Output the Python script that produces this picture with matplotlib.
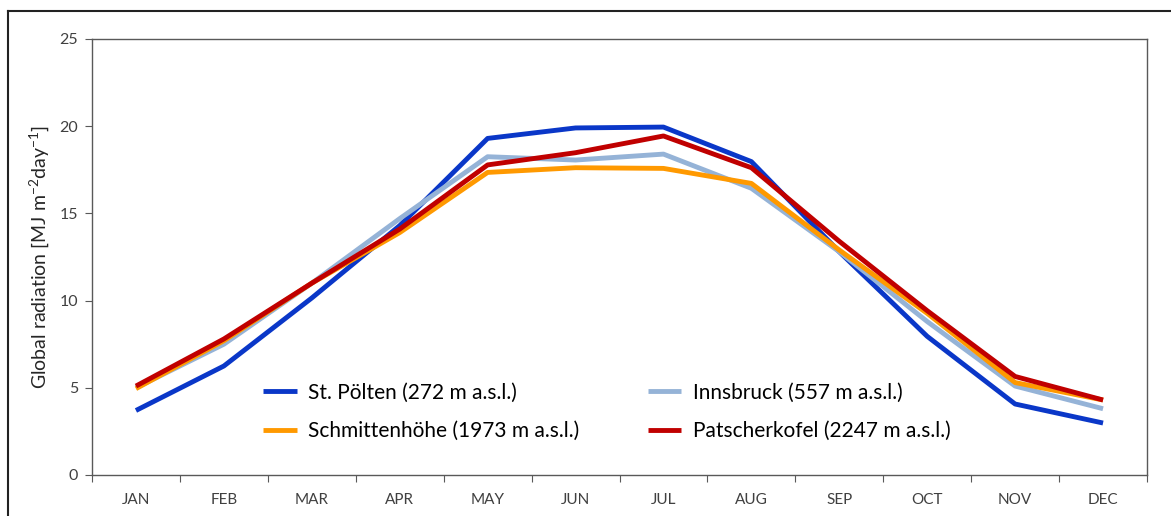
import matplotlib.pyplot as plt
from matplotlib.lines import Line2D
import numpy as np

plt.rcParams["font.family"] = ["Lato", "DejaVu Sans"]
plt.rcParams["mathtext.fontset"] = "custom"
plt.rcParams["mathtext.rm"] = "Lato"

months = ['JAN', 'FEB', 'MAR', 'APR', 'MAY', 'JUN', 'JUL', 'AUG', 'SEP', 'OCT', 'NOV', 'DEC']

st_poelten = [3.7, 6.25, 10.15, 14.3, 19.3, 19.9, 19.95, 17.97, 12.8, 7.95, 4.07, 2.98]
innsbruck = [5.0, 7.5, 11.0, 14.7, 18.25, 18.06, 18.4, 16.44, 12.8, 8.8, 5.1, 3.8]
schmittenhoehe = [4.95, 7.7, 11.0, 13.9, 17.35, 17.62, 17.58, 16.72, 12.9, 9.27, 5.3, 4.3]
patscherkofel = [5.1, 7.8, 11.0, 14.1, 17.78, 18.48, 19.44, 17.62, 13.4, 9.42, 5.65, 4.3]

labels = ['St. Pölten (272 m a.s.l.)', 'Innsbruck (557 m a.s.l.)',
          'Schmittenhöhe (1973 m a.s.l.)', 'Patscherkofel (2247 m a.s.l.)']
colors = ['#0A37C8', '#95B3D7', '#FF9900', '#C00000']

fig = plt.figure(figsize=(11.71, 5.16), dpi=100)
ax = fig.add_axes([92 / 1171, 41 / 516, 1055 / 1171, 436 / 516])

x = np.arange(len(months))
handles = []
for data, c, lab in zip([st_poelten, innsbruck, schmittenhoehe, patscherkofel], colors, labels):
    h, = ax.plot(x, data, color=c, lw=3.5, label=lab, solid_capstyle='butt')
    handles.append(h)

ax.set_xlim(-0.5, 11.5)
ax.set_ylim(0, 25)
ax.set_yticks([0, 5, 10, 15, 20, 25])
ax.set_xticks(np.arange(-0.5, 12, 1))
ax.set_xticklabels([])
ax.set_xticks(x, minor=True)
ax.set_xticklabels(months, minor=True)
ax.tick_params(axis='x', which='minor', length=0, pad=13, labelsize=11, labelcolor='#404040')
ax.tick_params(axis='x', which='major', length=5, color='#595959')
ax.tick_params(axis='y', length=5, color='#595959', labelsize=11.5, labelcolor='#404040', pad=5)
for s in ax.spines.values():
    s.set_color('#595959')
    s.set_linewidth(1.0)

ax.set_ylabel('Global radiation [MJ m$^{-2}$day$^{-1}$]', fontsize=14, color='#262626', labelpad=5)

# legend fills column-wise, so order for rows: St. Pölten | Innsbruck, Schmittenhöhe | Patscherkofel
order = [0, 2, 1, 3]
ax.legend(handles=[handles[i] for i in order], ncol=2, frameon=False, loc='center',
          bbox_to_anchor=(0.488, 0.145), fontsize=15, handlelength=1.6,
          handletextpad=0.55, columnspacing=3.3, labelspacing=0.9)

# outer frame (left and top edges visible)
fig.add_artist(Line2D([8 / 1171, 8 / 1171], [0, 1 - 11 / 516], transform=fig.transFigure, color='#222222', lw=1.5))
fig.add_artist(Line2D([8 / 1171, 1], [1 - 11 / 516, 1 - 11 / 516], transform=fig.transFigure, color='#222222', lw=1.5))

fig.savefig('out.png', dpi=100)
